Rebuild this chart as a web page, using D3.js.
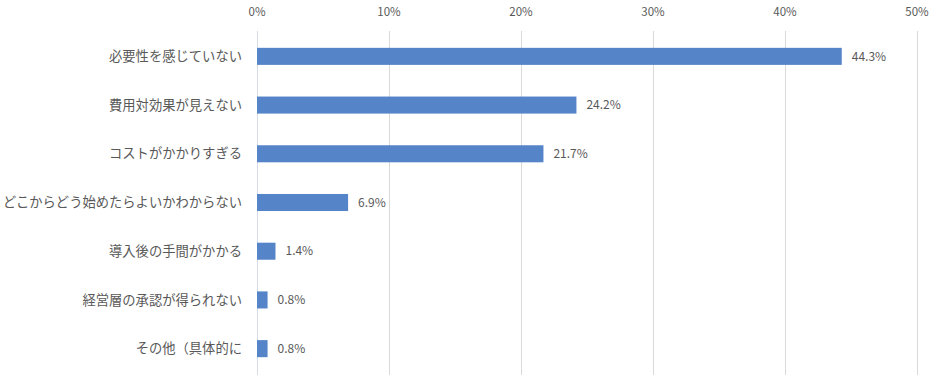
<!DOCTYPE html>
<html><head><meta charset="utf-8">
<script src="https://cdn.jsdelivr.net/npm/d3@7"></script>
<style>body{margin:0;background:#fff;} text{font-family:"Noto Sans CJK JP","Noto Sans",sans-serif;}</style>
</head><body><svg id="c" width="935" height="375"></svg>
<script>
const categories = ["必要性を感じていない","費用対効果が見えない","コストがかかりすぎる","どこからどう始めたらよいかわからない","導入後の手間がかかる","経営層の承認が得られない","その他（具体的に"];
const values = [44.3,24.2,21.7,6.9,1.4,0.8,0.8];
const ticks = [0,10,20,30,40,50];

const svg = d3.select("#c");
const x = d3.scaleLinear().domain([0,50]).range([257,917]);
const y = d3.scaleBand().domain(categories).range([32,373]).paddingInner(0.65).paddingOuter(0.325);

svg.append("g").selectAll("line").data(ticks).join("line")
  .attr("x1",d=>x(d)+0.5).attr("x2",d=>x(d)+0.5).attr("y1",31).attr("y2",375)
  .attr("stroke",d=>d===0?"#d6dce8":"#d9d9d9").attr("stroke-width",1);

svg.append("g").selectAll("text").data(ticks).join("text")
  .attr("x",d=>x(d)).attr("y",13).attr("text-anchor","middle").attr("dominant-baseline","middle")
  .attr("font-size",11.5).attr("fill","#595959").text(d=>d+"%");

svg.append("g").selectAll("rect").data(values).join("rect")
  .attr("x",x(0)).attr("y",(d,i)=>y(categories[i])).attr("width",d=>x(d)-x(0)).attr("height",y.bandwidth())
  .attr("fill","#5585c8");

svg.append("g").selectAll("text").data(values).join("text")
  .attr("x",d=>x(d)+10).attr("y",(d,i)=>y(categories[i])+y.bandwidth()/2+1).attr("dominant-baseline","middle")
  .attr("font-size",12).attr("fill","#595959").text(d=>d.toFixed(1)+"%");

svg.append("g").selectAll("text").data(categories).join("text")
  .attr("x",242).attr("y",d=>y(d)+y.bandwidth()/2+1).attr("text-anchor","end").attr("dominant-baseline","middle")
  .attr("font-size",13.3).attr("fill","#595959").text(d=>d);
</script></body></html>
